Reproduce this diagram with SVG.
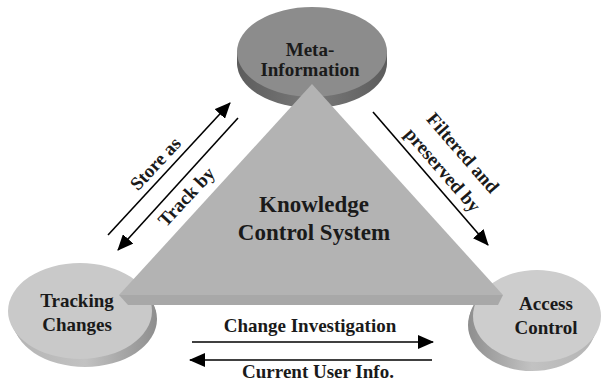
<svg xmlns="http://www.w3.org/2000/svg" width="604" height="381" viewBox="0 0 604 381">
<defs>
<style>
.lbl{font-family:"Liberation Serif","Times New Roman",serif;font-weight:bold;fill:#1a1a1a;text-anchor:middle}
.n{font-size:19px}
.c{font-size:23px}
.a{font-size:19px}
.ln{stroke:#000;stroke-width:1.6;fill:none}
</style>
<linearGradient id="sideDark" x1="0" y1="0" x2="1" y2="0">
<stop offset="0" stop-color="#5c5c5c"/><stop offset="0.5" stop-color="#7a7a7a"/><stop offset="1" stop-color="#5c5c5c"/>
</linearGradient>
<linearGradient id="sideLight" x1="0" y1="0" x2="1" y2="0">
<stop offset="0" stop-color="#b4b4b4"/><stop offset="0.5" stop-color="#c2c2c2"/><stop offset="1" stop-color="#8e8e8e"/>
</linearGradient>
<linearGradient id="sideLightR" x1="0" y1="0" x2="1" y2="0">
<stop offset="0" stop-color="#8e8e8e"/><stop offset="0.5" stop-color="#c2c2c2"/><stop offset="1" stop-color="#b4b4b4"/>
</linearGradient>
<marker id="ah" markerUnits="userSpaceOnUse" markerWidth="16" markerHeight="14" refX="15" refY="7" orient="auto">
<path d="M0,0 L16,7 L0,14 Z" fill="#000"/>
</marker>
</defs>

<g id="meta-information">
<ellipse cx="312" cy="56" rx="75" ry="45" fill="url(#sideDark)"/>
<ellipse cx="312" cy="60" rx="75" ry="45" fill="url(#sideDark)"/>
<ellipse cx="312" cy="63" rx="75" ry="45" fill="url(#sideDark)"/>
<ellipse cx="312" cy="52" rx="75" ry="45" fill="#8c8c8c"/>
<text class="lbl n" x="310" y="56">Meta-</text>
<text class="lbl n" x="310" y="76">Information</text>
</g>

<g id="tracking-changes">
<ellipse cx="82" cy="314" rx="72" ry="48" fill="url(#sideLight)"/>
<ellipse cx="84" cy="317" rx="72" ry="48" fill="url(#sideLight)"/>
<ellipse cx="85" cy="319" rx="72" ry="48" fill="url(#sideLight)"/>
<ellipse cx="80" cy="311" rx="72" ry="48" fill="#c9c9c9"/>
<text class="lbl n" x="77" y="307">Tracking</text>
<text class="lbl n" x="77" y="331">Changes</text>
</g>

<g id="access-control">
<ellipse cx="535" cy="319" rx="64" ry="46" fill="url(#sideLightR)"/>
<ellipse cx="533" cy="322" rx="64" ry="46" fill="url(#sideLightR)"/>
<ellipse cx="532" cy="325" rx="64" ry="46" fill="url(#sideLightR)"/>
<ellipse cx="537" cy="316" rx="64" ry="46" fill="#cdcdcd"/>
<text class="lbl n" x="546" y="310">Access</text>
<text class="lbl n" x="546" y="334">Control</text>
</g>

<g id="knowledge-control-system">
<polygon points="119,295 503,295 498,305 128,305" fill="#a8a8a8"/>
<polygon points="312,84 503,295 119,295" fill="#b3b3b3"/>
<text class="lbl c" x="314" y="212">Knowledge</text>
<text class="lbl c" x="314" y="240">Control System</text>
</g>

<g id="connectors">
<line class="ln" x1="108" y1="235" x2="230" y2="103" marker-end="url(#ah)"/>
<line class="ln" x1="238" y1="118" x2="118" y2="250" marker-end="url(#ah)"/>
<line class="ln" x1="373" y1="112" x2="488" y2="245" marker-end="url(#ah)"/>
<line class="ln" x1="192" y1="342" x2="433" y2="342" marker-end="url(#ah)"/>
<line class="ln" x1="432" y1="360" x2="190" y2="360" marker-end="url(#ah)"/>
<text class="lbl a" transform="translate(160,168) rotate(-47)">Store as</text>
<text class="lbl a" transform="translate(191,201) rotate(-47)">Track by</text>
<text class="lbl a" transform="translate(458,157) rotate(49)">Filtered and</text>
<text class="lbl a" transform="translate(438,174) rotate(49)">preserved by</text>
<text class="lbl a" x="310" y="332">Change Investigation</text>
<text class="lbl a" x="318" y="378">Current User Info.</text>
</g>
</svg>
